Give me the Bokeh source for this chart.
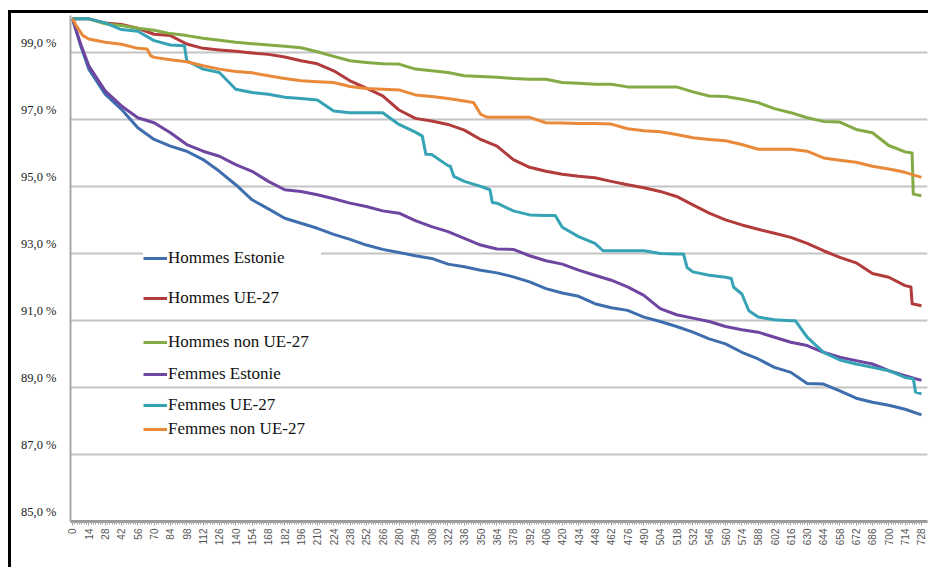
import math
from bokeh.plotting import figure
from bokeh.models import Range1d, LinearAxis, FixedTicker, Grid, Legend, LegendItem
from bokeh.embed import file_html
from bokeh.resources import INLINE

# ---- data (every 14 days) ----
days = list(range(0, 729, 14))

hommes_estonie = [100, 98.5, 97.75, 97.3, 96.75, 96.4, 96.2, 96.05, 95.8, 95.45,
                  95.05, 94.6, 94.33, 94.05, 93.9, 93.75, 93.57, 93.42, 93.25, 93.12,
                  93.03, 92.93, 92.85, 92.68, 92.6, 92.5, 92.42, 92.3, 92.15, 91.95,
                  91.82, 91.72, 91.5, 91.38, 91.3, 91.1, 90.97, 90.82, 90.65, 90.45,
                  90.3, 90.05, 89.85, 89.6, 89.45, 89.12, 89.1, 88.9, 88.68, 88.56,
                  88.47, 88.35, 88.18]
hommes_ue27 = [100, 100, 99.88, 99.83, 99.72, 99.54, 99.5, 99.25, 99.12, 99.07,
               99.03, 98.98, 98.94, 98.86, 98.75, 98.66, 98.45, 98.15, 97.93, 97.7,
               97.28, 97.03, 96.95, 96.85, 96.68, 96.4, 96.2, 95.8, 95.57, 95.45,
               95.36, 95.3, 95.26, 95.15, 95.05, 94.96, 94.85, 94.7, 94.45, 94.2,
               94.0, 93.85, 93.72, 93.6, 93.48, 93.3, 93.08, 92.88, 92.72, 92.4,
               92.29, 92.04, 91.44]
hommes_non_ue27 = [100, 100, 99.85, 99.8, 99.72, 99.66, 99.56, 99.5, 99.42, 99.36,
                   99.3, 99.26, 99.22, 99.18, 99.14, 99.02, 98.88, 98.75, 98.7, 98.66,
                   98.65, 98.5, 98.45, 98.4, 98.3, 98.28, 98.26, 98.22, 98.2, 98.2,
                   98.1, 98.08, 98.05, 98.05, 97.97, 97.97, 97.97, 97.97, 97.82, 97.7,
                   97.68, 97.6, 97.5, 97.32, 97.2, 97.05, 96.94, 96.92, 96.7, 96.6,
                   96.22, 96.03, 94.72]
femmes_estonie = [100, 98.6, 97.85, 97.4, 97.05, 96.9, 96.6, 96.25, 96.05, 95.9,
                  95.65, 95.45, 95.15, 94.9, 94.85, 94.75, 94.63, 94.5, 94.4, 94.27,
                  94.2, 93.98, 93.8, 93.65, 93.45, 93.25, 93.13, 93.12, 92.93, 92.78,
                  92.68, 92.5, 92.35, 92.2, 92.0, 91.75, 91.35, 91.17, 91.07, 90.97,
                  90.82, 90.72, 90.65, 90.5, 90.35, 90.25, 90.05, 89.9, 89.8, 89.7,
                  89.5, 89.35, 89.21]
femmes_ue27 = [100, 100, 99.88, 99.68, 99.63, 99.35, 99.22, 98.75, 98.5, 98.4,
               97.9, 97.8, 97.75, 97.66, 97.62, 97.58, 97.25, 97.2, 97.2, 97.2,
               96.85, 96.62, 95.95, 95.62, 95.15, 95.0, 94.5, 94.27, 94.15, 94.13,
               93.78, 93.5, 93.3, 93.08, 93.08, 93.08, 93.0, 92.98, 92.45, 92.35,
               92.29, 91.79, 91.1, 91.02, 90.99, 90.5, 90.05, 89.82, 89.7, 89.6,
               89.5, 89.3, 88.81]
femmes_non_ue27 = [100, 99.4, 99.3, 99.24, 99.12, 98.85, 98.78, 98.72, 98.6, 98.5,
                   98.43, 98.39, 98.3, 98.22, 98.15, 98.12, 98.1, 97.98, 97.92, 97.9,
                   97.88, 97.73, 97.68, 97.62, 97.55, 97.15, 97.06, 97.06, 97.06, 96.9,
                   96.89, 96.88, 96.88, 96.86, 96.72, 96.66, 96.63, 96.55, 96.45, 96.4,
                   96.36, 96.25, 96.11, 96.11, 96.11, 96.05, 95.85, 95.78, 95.72, 95.6,
                   95.52, 95.42, 95.27]

# extra readings between the 14-day samples (sharp drops)
extra_days = [
    [7],                                                   # Hommes Estonie
    [719, 720],                                            # Hommes UE-27
    [720, 721],                                            # Hommes non UE-27
    [7],                                                   # Femmes Estonie
    [96, 300, 303, 324, 327, 358, 360, 414, 455, 524, 527,
     565, 567, 580, 620, 721, 723],                        # Femmes UE-27
    [4, 9, 64, 67, 344, 356],                              # Femmes non UE-27
]
extra_vals = [
    [99.2],
    [92.0, 91.5],
    [96.0, 94.77],
    [99.25],
    [99.2, 96.5, 95.96, 95.6, 95.3, 94.9, 94.52, 94.13, 93.08, 92.98, 92.58,
     92.25, 91.99, 91.29, 90.99, 89.26, 88.86],
    [99.75, 99.5, 99.1, 98.9, 97.5, 97.06],
]

series_names = ["Hommes Estonie", "Hommes UE-27", "Hommes non UE-27",
                "Femmes Estonie", "Femmes UE-27", "Femmes non UE-27"]
series_values = [hommes_estonie, hommes_ue27, hommes_non_ue27,
                 femmes_estonie, femmes_ue27, femmes_non_ue27]
colors = ["#3E6EAD", "#B23C3B", "#84AA45", "#6E45A0", "#35A3B5", "#E9893A"]

y_ticks = [85, 87, 89, 91, 93, 95, 97, 99]
y_tick_labels = ["85,0 %", "87,0 %", "89,0 %", "91,0 %", "93,0 %", "95,0 %", "97,0 %", "99,0 %"]

# ---- figure ----
W, H = 917, 557
p = figure(width=W, height=H, output_backend="svg", toolbar_location=None,
           x_range=Range1d(-1.7, 733.2), y_range=Range1d(85, 100.1),
           x_axis_location=None, y_axis_location=None,
           min_border_left=59, min_border_right=1, min_border_top=2, min_border_bottom=49)
p.outline_line_color = None
p.background_fill_color = "white"
p.border_fill_color = "white"
# black top and left edges of the original picture, drawn as an offset shadow
p.styles = {"margin-left": "11px", "margin-top": "13px",
            "box-shadow": "-3px -3px 0 0 black, 0 -3px 0 0 black"}
for g in p.xgrid:
    g.visible = False
for g in p.ygrid:
    g.visible = False

grid = Grid(dimension=1, ticker=FixedTicker(ticks=y_ticks),
            grid_line_color="#C4C4C4", grid_line_width=2)
p.add_layout(grid, "center")

# y labels (sit slightly above their gridlines, as in the reference)
p.extra_y_ranges = {"lab": Range1d(85 - 0.27, 100.1 - 0.27)}
yax = LinearAxis(y_range_name="lab", ticker=FixedTicker(ticks=y_ticks),
                 major_label_overrides={t: l for t, l in zip(y_ticks, y_tick_labels)})
yax.axis_line_color = "#A8A8A8"
yax.axis_line_width = 2
yax.major_tick_line_color = None
yax.minor_tick_line_color = None
yax.major_label_standoff = 8
yax.major_label_text_font = "Liberation Serif"
yax.major_label_text_font_size = "12.5px"
yax.major_label_text_color = "#222222"
p.add_layout(yax, "left")

xax = LinearAxis(ticker=FixedTicker(ticks=days, minor_ticks=list(range(0, 729, 2))))
xax.axis_line_color = "#9A9A9A"
xax.axis_line_width = 3
xax.major_tick_in = 0
xax.major_tick_out = 4
xax.minor_tick_in = 0
xax.minor_tick_out = 3
xax.major_tick_line_color = "#9A9A9A"
xax.minor_tick_line_color = "#A8A8A8"
xax.major_label_orientation = math.pi / 2
xax.major_label_standoff = 3
xax.major_label_text_font = "Liberation Sans"
xax.major_label_text_font_size = "10px"
xax.major_label_text_color = "#555555"
p.add_layout(xax, "below")

renderers = []
for vals, ex_d, ex_v, c in zip(series_values, extra_days, extra_vals, colors):
    pts = sorted(list(zip(days, vals)) + list(zip(ex_d, ex_v)))
    xs = [d for d, _ in pts]
    ys = [v for _, v in pts]
    r = p.line(x=xs, y=ys, line_color=c, line_width=3, line_join="round")
    renderers.append(r)

legend_centers = [260, 300, 344, 375.5, 407, 431]   # page-y of each legend row
frame_bottom_page = 521
for i, (name, r) in enumerate(zip(series_names, renderers)):
    ybot = frame_bottom_page - (legend_centers[i] + 8)
    leg = Legend(items=[LegendItem(label=name, renderers=[r])],
                 location=(73, ybot), padding=0, margin=0, spacing=0,
                 glyph_width=24, glyph_height=16, label_height=16,
                 label_standoff=1, label_text_font="Liberation Serif",
                 label_text_font_size="17px", label_text_color="#111111",
                 border_line_color=None)
    if i == 0:
        leg.label_width = 153
        leg.background_fill_color = "white"
        leg.background_fill_alpha = 1.0
    else:
        leg.background_fill_alpha = 0
    p.add_layout(leg, "center")

open("out.html", "w").write(file_html(p, INLINE))
